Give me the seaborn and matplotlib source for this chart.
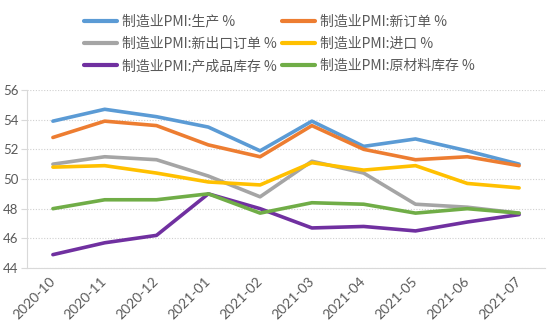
import matplotlib
matplotlib.use("Agg")
import matplotlib.pyplot as plt
import seaborn as sns
import pandas as pd
import numpy as np
from matplotlib.ticker import FixedLocator

months = ["2020-10", "2020-11", "2020-12", "2021-01", "2021-02",
          "2021-03", "2021-04", "2021-05", "2021-06", "2021-07"]
production = [53.9, 54.7, 54.2, 53.5, 51.9, 53.9, 52.2, 52.7, 51.9, 51.0]
new_orders = [52.8, 53.9, 53.6, 52.3, 51.5, 53.6, 52.0, 51.3, 51.5, 50.9]
new_export = [51.0, 51.5, 51.3, 50.2, 48.8, 51.2, 50.4, 48.3, 48.1, 47.7]
imports = [50.8, 50.9, 50.4, 49.8, 49.6, 51.1, 50.6, 50.9, 49.7, 49.4]
finished_inv = [44.9, 45.7, 46.2, 49.0, 48.0, 46.7, 46.8, 46.5, 47.1, 47.6]
raw_inv = [48.0, 48.6, 48.6, 49.0, 47.7, 48.4, 48.3, 47.7, 48.0, 47.7]

names = ["制造业PMI:生产 %", "制造业PMI:新订单 %", "制造业PMI:新出口订单 %",
         "制造业PMI:进口 %", "制造业PMI:产成品库存 %", "制造业PMI:原材料库存 %"]
series = [production, new_orders, new_export, imports, finished_inv, raw_inv]
colors = ["#5B9BD5", "#ED7D31", "#A5A5A5", "#FFC000", "#7030A0", "#70AD47"]

rows = []
for n, s in zip(names, series):
    for m, v in zip(months, s):
        rows.append({"month": m, "value": v, "series": n})
df = pd.DataFrame(rows)

sns.set_style("white")
plt.rcParams["font.family"] = ["Noto Sans CJK SC", "DejaVu Sans"]

fig = plt.figure(figsize=(5.5, 3.28), dpi=100)
ax = fig.add_axes([27 / 550, 1 - 268 / 328, 518 / 550, (268 - 90) / 328])

sns.lineplot(data=df, x="month", y="value", hue="series", hue_order=names,
             palette=colors, linewidth=2.6, ax=ax, sort=False)

ax.set_xlim(-0.5, len(months) - 0.5)
ax.set_ylim(44, 56)
ax.set_yticks(np.arange(44, 57, 2))
ax.set_xticks(range(len(months)))
ax.set_xticklabels(months, rotation=45, ha="right", va="center",
                   rotation_mode="anchor", fontsize=10, color="#595959",
                   family=["Lato", "DejaVu Sans"])
ax.tick_params(axis="x", which="major", length=0, pad=8)
ax.xaxis.set_minor_locator(FixedLocator(np.arange(-0.5, len(months), 1)))
ax.tick_params(axis="x", which="minor", length=4, color="#D9D9D9", width=0.8)
ax.tick_params(axis="y", length=4, color="#D9D9D9", width=0.8, labelsize=9.5,
               labelcolor="#595959", pad=2, left=True)
for t in ax.get_yticklabels():
    t.set_family(["Lato", "DejaVu Sans"])
ax.set_xlabel("")
ax.set_ylabel("")
ax.grid(axis="y", color="#D0D0D0", linestyle=(0, (1, 1.5)), linewidth=0.8)
ax.set_axisbelow(True)
for side in ["top", "right"]:
    ax.spines[side].set_visible(False)
for side in ["left", "bottom"]:
    ax.spines[side].set_color("#D9D9D9")
    ax.spines[side].set_linewidth(0.8)

handles, labels = ax.get_legend_handles_labels()
ax.legend_.remove()
order = [0, 2, 4, 1, 3, 5]
leg = fig.legend([handles[i] for i in order], [labels[i] for i in order],
                 ncol=2, loc="upper left",
                 bbox_to_anchor=(71.5 / 550, 1 - 2 / 328), frameon=False,
                 fontsize=10, handlelength=2.4, handletextpad=0.36,
                 columnspacing=0.36, labelspacing=0.6, labelcolor="#595959")
for line in leg.get_lines():
    line.set_linewidth(3.0)

fig.savefig("out.png", dpi=100)
